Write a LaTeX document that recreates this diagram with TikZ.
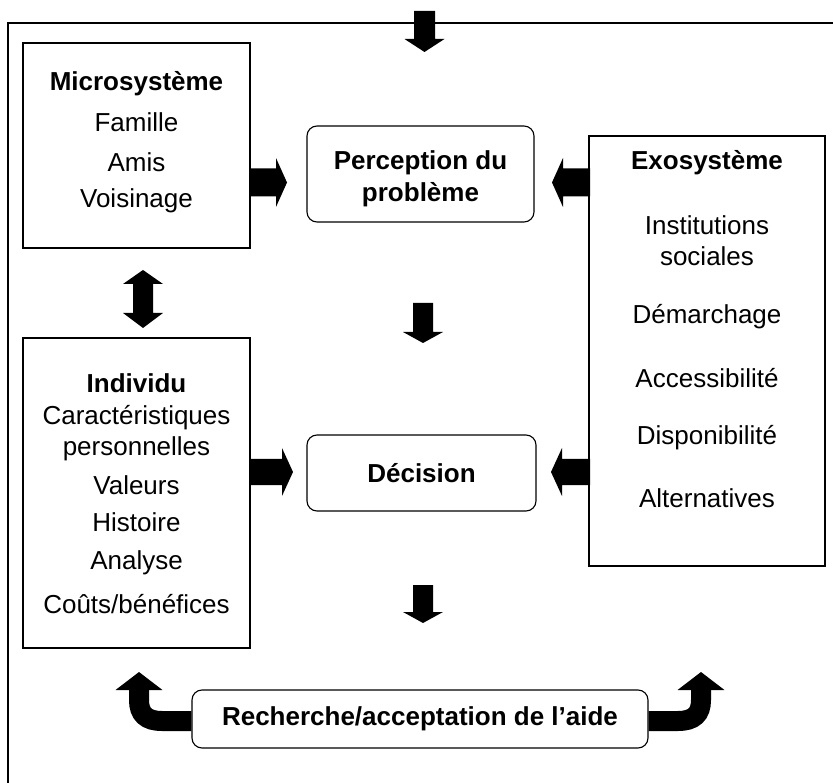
\documentclass[tikz,border=0pt]{standalone}
\usepackage{fontspec}
\setmainfont{Liberation Sans}
\usetikzlibrary{arrows.meta,calc}
\begin{document}
\begin{tikzpicture}[x=1pt,y=-1pt,
  box/.style={draw, line width=1.1pt, inner sep=0pt},
  rbox/.style={box, rounded corners=10pt},
  txt/.style={inner sep=0pt, font=\fontsize{26}{30}\selectfont},
  ttl/.style={inner sep=0pt, font=\fontsize{26}{30}\selectfont\bfseries},
  pics/blk/.style n args={4}{code={%
    \fill (0,0) -- (-#4,#3) -- (-#4,#2) -- (-#1,#2) -- (-#1,-#2) -- (-#4,-#2) -- (-#4,-#3) -- cycle;}},
  curved/.style={line width=20pt, -{Triangle[length=18pt,width=46pt]}}
]
\useasboundingbox (0,0) rectangle (833,783);
% frame
\draw[line width=1.3pt] (8,783) -- (8,23) -- (833,23);

% boxes
\node[box, minimum width=227pt, minimum height=205pt] (micro) at (136.5,145.5) {};
\node[box, minimum width=227pt, minimum height=310pt] (indiv) at (136.5,493) {};
\node[box, minimum width=236pt, minimum height=430pt] (exo) at (707,351) {};
\node[rbox, minimum width=227pt, minimum height=96pt] (perc) at (420.5,174) {};
\node[rbox, minimum width=229pt, minimum height=76pt] (dec) at (421.5,473) {};
\node[rbox, minimum width=456pt, minimum height=58pt] (rech) at (420,719) {};

% texts
\node[ttl] (t1) at (136.5,84) {Microsystème};
\node[txt] (t2) at (136.5,122) {Famille};
\node[txt] (t3) at (136.5,162) {Amis};
\node[txt] (t4) at (136.5,201) {Voisinage};

\node[ttl] (i1) at (136.5,383) {Individu};
\node[txt] (i2) at (136.5,418) {Caractéristiques};
\node[txt] (i3) at (136.5,449) {personnelles};
\node[txt] (i4) at (136.5,485) {Valeurs};
\node[txt] (i5) at (136.5,522) {Histoire};
\node[txt] (i6) at (136.5,563) {Analyse};
\node[txt] (i7) at (136.5,604) {Coûts/bénéfices};

\node[ttl] (e1) at (707,163) {Exosystème};
\node[txt] (e2) at (707,225) {Institutions};
\node[txt] (e3) at (707,256) {sociales};
\node[txt] (e4) at (707,317) {Démarchage};
\node[txt] (e5) at (707,378) {Accessibilité};
\node[txt] (e6) at (707,438) {Disponibilité};
\node[txt] (e7) at (707,498) {Alternatives};

\node[ttl] (p1) at (420.5,163) {Perception du};
\node[ttl] (p2) at (420.5,195) {problème};
\node[ttl] (d1) at (dec.center) {Décision};
\node[ttl] (r1) at (rech.center) {Recherche/acceptation de l'aide};

% block arrows
\pic[rotate=-90] at (424.5,52) {blk={41}{10.5}{20}{13}};
\pic[rotate=-90] at (423,343) {blk={40}{10}{20}{11}};
\pic[rotate=-90] at (423,623) {blk={38}{10}{20}{11}};
\pic at (287,182.5) {blk={37}{14}{24.5}{11}};
\pic[rotate=180] at (552,182.5) {blk={38}{14}{24.5}{11}};
\pic at (293,472) {blk={43}{13}{24}{11}};
\pic[rotate=180] at (551,472) {blk={39}{13}{24}{11}};

% double arrow
\fill (143,270) -- (163,284) -- (153,284) -- (153,313) -- (163,313) -- (143,328)
  -- (123,313) -- (133,313) -- (133,284) -- (123,284) -- cycle;

% curved arrows
\draw[curved] (rech.west |- 0,721) -- (162,721) .. controls (146,721) and (139,714) .. (139,700) -- (139,672);
\draw[curved] (rech.east |- 0,721) -- (678,721) .. controls (694,721) and (701,714) .. (701,700) -- (701,672);
\end{tikzpicture}
\end{document}
